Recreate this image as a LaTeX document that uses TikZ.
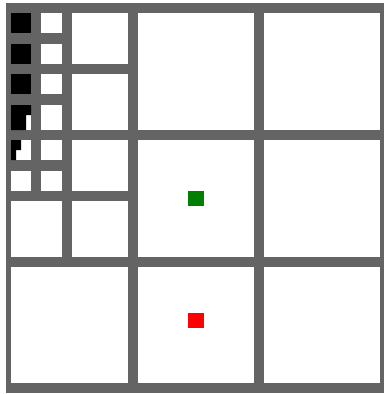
\documentclass[tikz,border=0pt]{standalone}
\usepackage{xcolor}
\usepackage{tikz}
\definecolor{gridgray}{RGB}{100,100,100}
\definecolor{markgreen}{RGB}{0,128,0}
\definecolor{markred}{RGB}{255,0,0}

\begin{document}
\begin{tikzpicture}[
      x=1bp,
      y=-1bp,
      frame/.style={fill=gridgray},
      cell/.style={fill=white},
      used/.style={fill=black},
      marker/.style={minimum width=16bp, minimum height=15bp, inner sep=0pt}
    ]
    \useasboundingbox (0,0) rectangle (384,394);
    \fill[frame] (6,3) rectangle (384,393);

    % coarse cells
    \foreach \xa/\xb in {138/254, 264/380}
      \foreach \ya/\yb in {13/130, 140/257, 267/383}
        \fill[cell] (\xa,\ya) rectangle (\xb,\yb);
    \fill[cell] (11,267) rectangle (128,383);

    % refined corner
    \foreach \ya/\yb in {13/64, 74/130, 140/191, 201/257}
      \fill[cell] (72,\ya) rectangle (128,\yb);
    \fill[cell] (11,201) rectangle (62,257);
    \foreach \ya/\yb in {13/33, 44/64, 74/94, 105/130, 140/160, 171/191} {
      \fill[cell] (11,\ya) rectangle (31,\yb);
      \fill[cell] (41,\ya) rectangle (62,\yb);
    }

    % filled blocks
    \foreach \ya/\yb in {13/33, 44/64, 74/94}
      \fill[used] (11,\ya) rectangle (31,\yb);
    \fill[used] (11,105) -- (31,105) -- (31,115) -- (26,115) -- (26,130)
      -- (11,130) -- cycle;
    \fill[used] (11,140) -- (21,140) -- (21,150) -- (16,150) -- (16,160)
      -- (11,160) -- cycle;

    \node[marker, fill=markgreen] (goal) at (196,198.5) {};
    \node[marker, fill=markred] (start) at (196,320.5) {};
  \end{tikzpicture}
\end{document}
